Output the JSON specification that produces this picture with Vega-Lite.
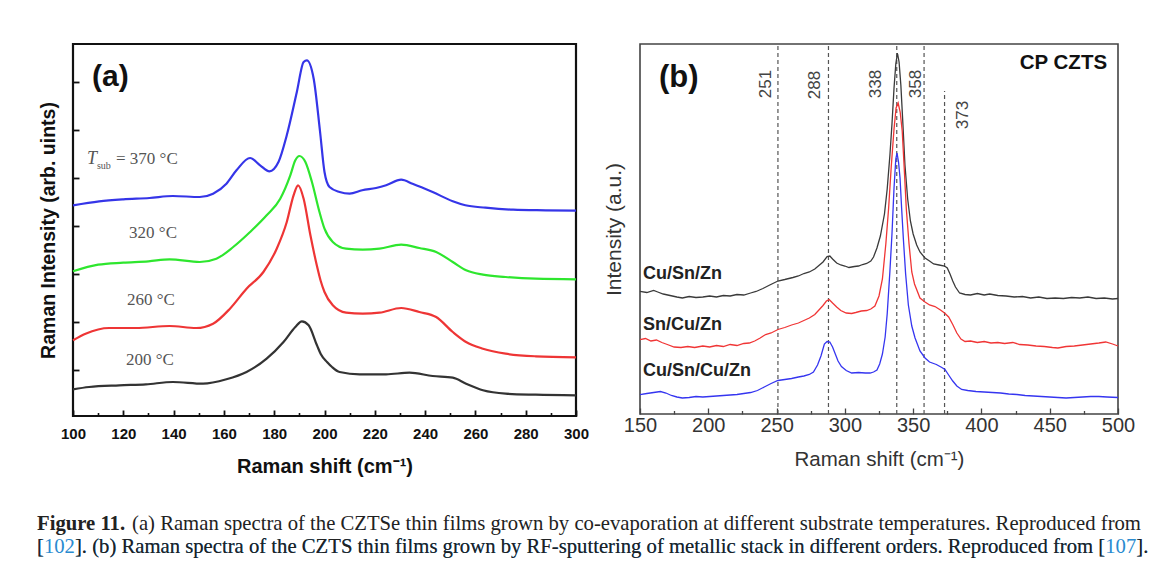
{
  "$schema": "https://vega.github.io/schema/vega-lite/v6.json",
  "background": "white",
  "padding": {"left": 37, "top": 42, "right": 5, "bottom": 0},
  "config": {"view": {"stroke": null}, "axis": {"grid": false}, "font": "Liberation Sans"},
  "spacing": 34,
  "vconcat": [
    {
      "spacing": 12,
      "resolve": {"scale": {"color": "independent"}},
      "hconcat": [
        {
          "width": 503,
          "height": 372,
          "view": {"stroke": "#111111", "strokeWidth": 2.2},
          "resolve": {"axis": {"x": "independent"}},
          "encoding": {
            "y": {"field": "intensity", "type": "quantitative",
              "scale": {"domain": [0, 372], "nice": false, "zero": false},
              "axis": {"values": [46, 94, 142, 190, 238, 286, 334], "tickSize": -6, "tickWidth": 1.8,
                "tickColor": "#111111", "labels": false, "domain": false,
                "title": "Raman Intensity (arb. uints)", "titleFont": "Liberation Sans", "titleFontWeight": "bold",
                "titleFontSize": 19.5, "titleColor": "#111111", "titlePadding": 14}}
          },
          "layer": [
            {
              "data": {"values": [
                {"series": "370 °C", "shift": 100, "intensity": 210.7},
                {"series": "370 °C", "shift": 110.4, "intensity": 214.7},
                {"series": "370 °C", "shift": 120, "intensity": 216.7},
                {"series": "370 °C", "shift": 130.4, "intensity": 218},
                {"series": "370 °C", "shift": 139.7, "intensity": 220},
                {"series": "370 °C", "shift": 150.4, "intensity": 219},
                {"series": "370 °C", "shift": 155.7, "intensity": 222.3},
                {"series": "370 °C", "shift": 161, "intensity": 232.3},
                {"series": "370 °C", "shift": 165, "intensity": 245.7},
                {"series": "370 °C", "shift": 170.4, "intensity": 258},
                {"series": "370 °C", "shift": 174.4, "intensity": 250.7},
                {"series": "370 °C", "shift": 178.1, "intensity": 244.7},
                {"series": "370 °C", "shift": 181.7, "intensity": 254},
                {"series": "370 °C", "shift": 185, "intensity": 280.7},
                {"series": "370 °C", "shift": 189, "intensity": 324},
                {"series": "370 °C", "shift": 191.7, "intensity": 354},
                {"series": "370 °C", "shift": 193, "intensity": 355.7},
                {"series": "370 °C", "shift": 195.7, "intensity": 337.3},
                {"series": "370 °C", "shift": 198.2, "intensity": 285},
                {"series": "370 °C", "shift": 200, "intensity": 244},
                {"series": "370 °C", "shift": 202, "intensity": 229},
                {"series": "370 °C", "shift": 206, "intensity": 224},
                {"series": "370 °C", "shift": 210, "intensity": 222.3},
                {"series": "370 °C", "shift": 215, "intensity": 225.7},
                {"series": "370 °C", "shift": 220.5, "intensity": 228},
                {"series": "370 °C", "shift": 224.5, "intensity": 230.7},
                {"series": "370 °C", "shift": 230.5, "intensity": 236.3},
                {"series": "370 °C", "shift": 235, "intensity": 232.3},
                {"series": "370 °C", "shift": 243, "intensity": 224},
                {"series": "370 °C", "shift": 251, "intensity": 214.7},
                {"series": "370 °C", "shift": 256, "intensity": 210.7},
                {"series": "370 °C", "shift": 264, "intensity": 208.3},
                {"series": "370 °C", "shift": 275, "intensity": 206.3},
                {"series": "370 °C", "shift": 288, "intensity": 205.7},
                {"series": "370 °C", "shift": 300, "intensity": 205.3},
                {"series": "320 °C", "shift": 100, "intensity": 144.7},
                {"series": "320 °C", "shift": 110, "intensity": 151.3},
                {"series": "320 °C", "shift": 120, "intensity": 153.3},
                {"series": "320 °C", "shift": 130, "intensity": 154.7},
                {"series": "320 °C", "shift": 138.4, "intensity": 156.7},
                {"series": "320 °C", "shift": 150.4, "intensity": 154},
                {"series": "320 °C", "shift": 157, "intensity": 157.3},
                {"series": "320 °C", "shift": 163.7, "intensity": 169},
                {"series": "320 °C", "shift": 170.4, "intensity": 184},
                {"series": "320 °C", "shift": 177, "intensity": 200.7},
                {"series": "320 °C", "shift": 182.4, "intensity": 217.3},
                {"series": "320 °C", "shift": 186.4, "intensity": 240.7},
                {"series": "320 °C", "shift": 188.4, "intensity": 255.7},
                {"series": "320 °C", "shift": 190, "intensity": 260},
                {"series": "320 °C", "shift": 192.4, "intensity": 254},
                {"series": "320 °C", "shift": 195, "intensity": 234},
                {"series": "320 °C", "shift": 198, "intensity": 204},
                {"series": "320 °C", "shift": 200, "intensity": 187.3},
                {"series": "320 °C", "shift": 203.3, "intensity": 174},
                {"series": "320 °C", "shift": 208.6, "intensity": 167.3},
                {"series": "320 °C", "shift": 215.2, "intensity": 166.3},
                {"series": "320 °C", "shift": 221.9, "intensity": 167.3},
                {"series": "320 °C", "shift": 230.5, "intensity": 171.3},
                {"series": "320 °C", "shift": 237.7, "intensity": 168},
                {"series": "320 °C", "shift": 244.4, "intensity": 164},
                {"series": "320 °C", "shift": 251, "intensity": 154},
                {"series": "320 °C", "shift": 256.3, "intensity": 145.7},
                {"series": "320 °C", "shift": 263, "intensity": 141.3},
                {"series": "320 °C", "shift": 272, "intensity": 139},
                {"series": "320 °C", "shift": 284, "intensity": 137.3},
                {"series": "320 °C", "shift": 300, "intensity": 136.7},
                {"series": "260 °C", "shift": 100, "intensity": 75.7},
                {"series": "260 °C", "shift": 105, "intensity": 82.3},
                {"series": "260 °C", "shift": 114.4, "intensity": 88},
                {"series": "260 °C", "shift": 125, "intensity": 88},
                {"series": "260 °C", "shift": 138.4, "intensity": 90},
                {"series": "260 °C", "shift": 149, "intensity": 88},
                {"series": "260 °C", "shift": 155.7, "intensity": 92.3},
                {"series": "260 °C", "shift": 162.4, "intensity": 107.3},
                {"series": "260 °C", "shift": 169, "intensity": 127.3},
                {"series": "260 °C", "shift": 175.7, "intensity": 144},
                {"series": "260 °C", "shift": 181, "intensity": 167.3},
                {"series": "260 °C", "shift": 185, "intensity": 194},
                {"series": "260 °C", "shift": 187.7, "intensity": 220.7},
                {"series": "260 °C", "shift": 189.5, "intensity": 230.7},
                {"series": "260 °C", "shift": 191.7, "intensity": 217.3},
                {"series": "260 °C", "shift": 194.4, "intensity": 180.7},
                {"series": "260 °C", "shift": 197, "intensity": 150},
                {"series": "260 °C", "shift": 198.5, "intensity": 135},
                {"series": "260 °C", "shift": 200, "intensity": 124},
                {"series": "260 °C", "shift": 203.3, "intensity": 110.7},
                {"series": "260 °C", "shift": 208.6, "intensity": 103.3},
                {"series": "260 °C", "shift": 215.2, "intensity": 102.3},
                {"series": "260 °C", "shift": 221.9, "intensity": 103.3},
                {"series": "260 °C", "shift": 230.5, "intensity": 108},
                {"series": "260 °C", "shift": 237.7, "intensity": 104},
                {"series": "260 °C", "shift": 244.4, "intensity": 99},
                {"series": "260 °C", "shift": 251, "intensity": 84},
                {"series": "260 °C", "shift": 256.3, "intensity": 74},
                {"series": "260 °C", "shift": 263, "intensity": 67.3},
                {"series": "260 °C", "shift": 272, "intensity": 62.3},
                {"series": "260 °C", "shift": 284, "intensity": 59.7},
                {"series": "260 °C", "shift": 300, "intensity": 58.7},
                {"series": "200 °C", "shift": 100, "intensity": 26.7},
                {"series": "200 °C", "shift": 106.4, "intensity": 29},
                {"series": "200 °C", "shift": 118.4, "intensity": 30.7},
                {"series": "200 °C", "shift": 129, "intensity": 31.7},
                {"series": "200 °C", "shift": 139.7, "intensity": 34},
                {"series": "200 °C", "shift": 151.7, "intensity": 32.3},
                {"series": "200 °C", "shift": 161, "intensity": 36.7},
                {"series": "200 °C", "shift": 169, "intensity": 44},
                {"series": "200 °C", "shift": 177, "intensity": 57.3},
                {"series": "200 °C", "shift": 183.7, "intensity": 74},
                {"series": "200 °C", "shift": 188.4, "intensity": 89},
                {"series": "200 °C", "shift": 191, "intensity": 94.7},
                {"series": "200 °C", "shift": 193.7, "intensity": 90.7},
                {"series": "200 °C", "shift": 197, "intensity": 70.7},
                {"series": "200 °C", "shift": 198.5, "intensity": 62},
                {"series": "200 °C", "shift": 201, "intensity": 54},
                {"series": "200 °C", "shift": 203, "intensity": 49},
                {"series": "200 °C", "shift": 206, "intensity": 44},
                {"series": "200 °C", "shift": 214, "intensity": 41.7},
                {"series": "200 °C", "shift": 224.5, "intensity": 41.7},
                {"series": "200 °C", "shift": 233.8, "intensity": 43.3},
                {"series": "200 °C", "shift": 243, "intensity": 40},
                {"series": "200 °C", "shift": 251, "intensity": 38.3},
                {"series": "200 °C", "shift": 256.3, "intensity": 32.3},
                {"series": "200 °C", "shift": 263, "intensity": 25.7},
                {"series": "200 °C", "shift": 272, "intensity": 22.3},
                {"series": "200 °C", "shift": 284, "intensity": 21.3},
                {"series": "200 °C", "shift": 300, "intensity": 20.7}
              ]},
              "mark": {"type": "line", "interpolate": "monotone", "strokeWidth": 2.2},
              "encoding": {
                "x": {"field": "shift", "type": "quantitative",
                  "scale": {"domain": [100, 300], "nice": false, "zero": false},
                  "axis": {"orient": "bottom", "values": [100, 120, 140, 160, 180, 200, 220, 240, 260, 280, 300],
                    "tickSize": -6, "tickWidth": 1.8, "tickColor": "#111111", "domain": false,
                    "labelFont": "Liberation Sans", "labelFontWeight": "bold", "labelFontSize": 15, "labelColor": "#111111",
                    "labelPadding": 16, "labelFlush": false, "labelOverlap": false,
                    "title": "Raman shift (cm⁻¹)", "titleFont": "Liberation Sans", "titleFontWeight": "bold",
                    "titleFontSize": 20, "titleColor": "#111111", "titlePadding": 15}},
                "color": {"field": "series", "type": "nominal",
                  "scale": {"domain": ["200 °C", "260 °C", "320 °C", "370 °C"],
                    "range": ["#333333", "#ee3535", "#2ee62e", "#3535e8"]},
                  "legend": null}
              }
            },
            {
              "data": {"values": [{"label": "(a)", "shift": 107.6, "intensity": 339}]},
              "mark": {"type": "text", "font": "Liberation Sans", "fontWeight": "bold", "fontSize": 30,
                "align": "left", "baseline": "middle", "color": "#111111"},
              "encoding": {
                "x": {"field": "shift", "type": "quantitative",
                  "axis": {"orient": "bottom", "values": [110, 130, 150, 170, 190, 210, 230, 250, 270, 290],
                    "tickSize": -3.5, "tickWidth": 1.6, "tickColor": "#111111", "labels": false,
                    "domain": false, "title": null}},
                "text": {"field": "label"}
              }
            },
            {
              "data": {"values": [
                {"label": "= 370 °C", "shift": 117.1, "intensity": 257},
                {"label": "320 °C", "shift": 122.3, "intensity": 183},
                {"label": "260 °C", "shift": 121.5, "intensity": 116},
                {"label": "200 °C", "shift": 121.1, "intensity": 56}
              ]},
              "mark": {"type": "text", "font": "Liberation Serif", "fontSize": 17,
                "align": "left", "baseline": "middle", "color": "#555555"},
              "encoding": {
                "x": {"field": "shift", "type": "quantitative", "axis": null},
                "text": {"field": "label"}
              }
            },
            {
              "data": {"values": [{"label": "T", "shift": 105.6, "intensity": 257}]},
              "mark": {"type": "text", "font": "Liberation Serif", "fontSize": 18, "fontStyle": "italic",
                "align": "left", "baseline": "middle", "color": "#555555"},
              "encoding": {
                "x": {"field": "shift", "type": "quantitative", "axis": null},
                "text": {"field": "label"}
              }
            },
            {
              "data": {"values": [{"label": "sub", "shift": 109.5, "intensity": 250}]},
              "mark": {"type": "text", "font": "Liberation Serif", "fontSize": 10,
                "align": "left", "baseline": "middle", "color": "#555555"},
              "encoding": {
                "x": {"field": "shift", "type": "quantitative", "axis": null},
                "text": {"field": "label"}
              }
            }
          ]
        },
        {
          "width": 478,
          "height": 370,
          "view": {"stroke": "#444444", "strokeWidth": 1.6},
          "resolve": {"axis": {"x": "independent"}},
          "encoding": {
            "y": {"field": "intensity", "type": "quantitative",
              "scale": {"domain": [0, 370], "nice": false, "zero": false},
              "axis": {"ticks": false, "labels": false, "domain": false,
                "title": "Intensity (a.u.)", "titleFont": "Liberation Sans", "titleFontWeight": "normal",
                "titleFontSize": 21, "titleColor": "#333333", "titlePadding": 16}}
          },
          "layer": [
            {
              "data": {"values": [
                {"peak": 251, "intensity": 0, "top": 370},
                {"peak": 288, "intensity": 0, "top": 370},
                {"peak": 338, "intensity": 0, "top": 370},
                {"peak": 358, "intensity": 0, "top": 370},
                {"peak": 373, "intensity": 0, "top": 323}
              ]},
              "mark": {"type": "rule", "strokeDash": [4, 3], "strokeWidth": 1.2, "color": "#555555"},
              "encoding": {
                "x": {"field": "peak", "type": "quantitative",
                  "scale": {"domain": [150, 500], "nice": false, "zero": false},
                  "axis": {"orient": "bottom", "values": [175, 225, 275, 325, 375, 425, 475],
                    "tickSize": -3.5, "tickWidth": 1.3, "tickColor": "#444444", "labels": false,
                    "domain": false, "title": null}},
                "y2": {"field": "top"}
              }
            },
            {
              "data": {"values": [
                {"stack": "Cu/Sn/Zn", "shift": 150, "intensity": 122.7},
                {"stack": "Cu/Sn/Zn", "shift": 155, "intensity": 121.5},
                {"stack": "Cu/Sn/Zn", "shift": 160, "intensity": 123.5},
                {"stack": "Cu/Sn/Zn", "shift": 163, "intensity": 122},
                {"stack": "Cu/Sn/Zn", "shift": 167, "intensity": 120},
                {"stack": "Cu/Sn/Zn", "shift": 172, "intensity": 118.5},
                {"stack": "Cu/Sn/Zn", "shift": 177, "intensity": 117},
                {"stack": "Cu/Sn/Zn", "shift": 181, "intensity": 116},
                {"stack": "Cu/Sn/Zn", "shift": 186, "intensity": 117.5},
                {"stack": "Cu/Sn/Zn", "shift": 191, "intensity": 116.5},
                {"stack": "Cu/Sn/Zn", "shift": 196, "intensity": 117},
                {"stack": "Cu/Sn/Zn", "shift": 201, "intensity": 118},
                {"stack": "Cu/Sn/Zn", "shift": 206, "intensity": 117},
                {"stack": "Cu/Sn/Zn", "shift": 211, "intensity": 118.5},
                {"stack": "Cu/Sn/Zn", "shift": 216, "intensity": 118},
                {"stack": "Cu/Sn/Zn", "shift": 221, "intensity": 119.5},
                {"stack": "Cu/Sn/Zn", "shift": 226, "intensity": 119},
                {"stack": "Cu/Sn/Zn", "shift": 231, "intensity": 121},
                {"stack": "Cu/Sn/Zn", "shift": 235, "intensity": 122.5},
                {"stack": "Cu/Sn/Zn", "shift": 240, "intensity": 125.5},
                {"stack": "Cu/Sn/Zn", "shift": 245, "intensity": 129},
                {"stack": "Cu/Sn/Zn", "shift": 251, "intensity": 133},
                {"stack": "Cu/Sn/Zn", "shift": 256, "intensity": 134.5},
                {"stack": "Cu/Sn/Zn", "shift": 262, "intensity": 136.5},
                {"stack": "Cu/Sn/Zn", "shift": 266, "intensity": 138},
                {"stack": "Cu/Sn/Zn", "shift": 270, "intensity": 140.5},
                {"stack": "Cu/Sn/Zn", "shift": 274, "intensity": 142},
                {"stack": "Cu/Sn/Zn", "shift": 278, "intensity": 145},
                {"stack": "Cu/Sn/Zn", "shift": 281, "intensity": 148.5},
                {"stack": "Cu/Sn/Zn", "shift": 284, "intensity": 152},
                {"stack": "Cu/Sn/Zn", "shift": 287, "intensity": 157.5},
                {"stack": "Cu/Sn/Zn", "shift": 289, "intensity": 158},
                {"stack": "Cu/Sn/Zn", "shift": 291, "intensity": 155},
                {"stack": "Cu/Sn/Zn", "shift": 294, "intensity": 151},
                {"stack": "Cu/Sn/Zn", "shift": 297, "intensity": 149},
                {"stack": "Cu/Sn/Zn", "shift": 300, "intensity": 148},
                {"stack": "Cu/Sn/Zn", "shift": 303, "intensity": 146.5},
                {"stack": "Cu/Sn/Zn", "shift": 307, "intensity": 147.5},
                {"stack": "Cu/Sn/Zn", "shift": 310, "intensity": 148},
                {"stack": "Cu/Sn/Zn", "shift": 313, "intensity": 149.5},
                {"stack": "Cu/Sn/Zn", "shift": 316, "intensity": 150.5},
                {"stack": "Cu/Sn/Zn", "shift": 319, "intensity": 153},
                {"stack": "Cu/Sn/Zn", "shift": 321, "intensity": 157},
                {"stack": "Cu/Sn/Zn", "shift": 323.5, "intensity": 166},
                {"stack": "Cu/Sn/Zn", "shift": 326, "intensity": 178},
                {"stack": "Cu/Sn/Zn", "shift": 329, "intensity": 200},
                {"stack": "Cu/Sn/Zn", "shift": 331, "intensity": 225},
                {"stack": "Cu/Sn/Zn", "shift": 333, "intensity": 259},
                {"stack": "Cu/Sn/Zn", "shift": 334.5, "intensity": 290},
                {"stack": "Cu/Sn/Zn", "shift": 336, "intensity": 326},
                {"stack": "Cu/Sn/Zn", "shift": 337.3, "intensity": 350},
                {"stack": "Cu/Sn/Zn", "shift": 338.5, "intensity": 361},
                {"stack": "Cu/Sn/Zn", "shift": 339.7, "intensity": 352},
                {"stack": "Cu/Sn/Zn", "shift": 341, "intensity": 329},
                {"stack": "Cu/Sn/Zn", "shift": 342.5, "intensity": 290},
                {"stack": "Cu/Sn/Zn", "shift": 344, "intensity": 249},
                {"stack": "Cu/Sn/Zn", "shift": 346, "intensity": 215},
                {"stack": "Cu/Sn/Zn", "shift": 348, "intensity": 193},
                {"stack": "Cu/Sn/Zn", "shift": 350, "intensity": 180},
                {"stack": "Cu/Sn/Zn", "shift": 352.6, "intensity": 169},
                {"stack": "Cu/Sn/Zn", "shift": 355, "intensity": 162},
                {"stack": "Cu/Sn/Zn", "shift": 358.7, "intensity": 156},
                {"stack": "Cu/Sn/Zn", "shift": 362, "intensity": 153},
                {"stack": "Cu/Sn/Zn", "shift": 365, "intensity": 150},
                {"stack": "Cu/Sn/Zn", "shift": 369, "intensity": 149},
                {"stack": "Cu/Sn/Zn", "shift": 373, "intensity": 148},
                {"stack": "Cu/Sn/Zn", "shift": 375, "intensity": 146},
                {"stack": "Cu/Sn/Zn", "shift": 377, "intensity": 140},
                {"stack": "Cu/Sn/Zn", "shift": 379, "intensity": 133},
                {"stack": "Cu/Sn/Zn", "shift": 381, "intensity": 127},
                {"stack": "Cu/Sn/Zn", "shift": 384, "intensity": 121},
                {"stack": "Cu/Sn/Zn", "shift": 388, "intensity": 119.5},
                {"stack": "Cu/Sn/Zn", "shift": 392, "intensity": 119},
                {"stack": "Cu/Sn/Zn", "shift": 397, "intensity": 120.5},
                {"stack": "Cu/Sn/Zn", "shift": 402, "intensity": 119},
                {"stack": "Cu/Sn/Zn", "shift": 406, "intensity": 120},
                {"stack": "Cu/Sn/Zn", "shift": 412, "intensity": 118.5},
                {"stack": "Cu/Sn/Zn", "shift": 418, "intensity": 118},
                {"stack": "Cu/Sn/Zn", "shift": 424, "intensity": 117},
                {"stack": "Cu/Sn/Zn", "shift": 430, "intensity": 117.5},
                {"stack": "Cu/Sn/Zn", "shift": 436, "intensity": 116},
                {"stack": "Cu/Sn/Zn", "shift": 442, "intensity": 117},
                {"stack": "Cu/Sn/Zn", "shift": 448, "intensity": 115.5},
                {"stack": "Cu/Sn/Zn", "shift": 454, "intensity": 116},
                {"stack": "Cu/Sn/Zn", "shift": 460, "intensity": 115.5},
                {"stack": "Cu/Sn/Zn", "shift": 466, "intensity": 116.5},
                {"stack": "Cu/Sn/Zn", "shift": 472, "intensity": 116},
                {"stack": "Cu/Sn/Zn", "shift": 478, "intensity": 117},
                {"stack": "Cu/Sn/Zn", "shift": 484, "intensity": 115.5},
                {"stack": "Cu/Sn/Zn", "shift": 490, "intensity": 116},
                {"stack": "Cu/Sn/Zn", "shift": 496, "intensity": 115},
                {"stack": "Cu/Sn/Zn", "shift": 500, "intensity": 115.5},
                {"stack": "Sn/Cu/Zn", "shift": 150, "intensity": 74.3},
                {"stack": "Sn/Cu/Zn", "shift": 154, "intensity": 75.5},
                {"stack": "Sn/Cu/Zn", "shift": 158, "intensity": 73},
                {"stack": "Sn/Cu/Zn", "shift": 162, "intensity": 74},
                {"stack": "Sn/Cu/Zn", "shift": 166, "intensity": 71.5},
                {"stack": "Sn/Cu/Zn", "shift": 170, "intensity": 69.5},
                {"stack": "Sn/Cu/Zn", "shift": 175, "intensity": 67},
                {"stack": "Sn/Cu/Zn", "shift": 180, "intensity": 66.5},
                {"stack": "Sn/Cu/Zn", "shift": 185, "intensity": 67.5},
                {"stack": "Sn/Cu/Zn", "shift": 190, "intensity": 66.5},
                {"stack": "Sn/Cu/Zn", "shift": 196, "intensity": 68},
                {"stack": "Sn/Cu/Zn", "shift": 201, "intensity": 67},
                {"stack": "Sn/Cu/Zn", "shift": 206, "intensity": 68.5},
                {"stack": "Sn/Cu/Zn", "shift": 211, "intensity": 67.5},
                {"stack": "Sn/Cu/Zn", "shift": 216, "intensity": 69.5},
                {"stack": "Sn/Cu/Zn", "shift": 221, "intensity": 68.5},
                {"stack": "Sn/Cu/Zn", "shift": 226, "intensity": 70.5},
                {"stack": "Sn/Cu/Zn", "shift": 230, "intensity": 71},
                {"stack": "Sn/Cu/Zn", "shift": 234, "intensity": 73},
                {"stack": "Sn/Cu/Zn", "shift": 238, "intensity": 76},
                {"stack": "Sn/Cu/Zn", "shift": 242, "intensity": 79.5},
                {"stack": "Sn/Cu/Zn", "shift": 246, "intensity": 81},
                {"stack": "Sn/Cu/Zn", "shift": 251, "intensity": 84.5},
                {"stack": "Sn/Cu/Zn", "shift": 256, "intensity": 86.5},
                {"stack": "Sn/Cu/Zn", "shift": 261, "intensity": 89},
                {"stack": "Sn/Cu/Zn", "shift": 266, "intensity": 91},
                {"stack": "Sn/Cu/Zn", "shift": 270, "intensity": 93.5},
                {"stack": "Sn/Cu/Zn", "shift": 274, "intensity": 96},
                {"stack": "Sn/Cu/Zn", "shift": 278, "intensity": 99.5},
                {"stack": "Sn/Cu/Zn", "shift": 281, "intensity": 104},
                {"stack": "Sn/Cu/Zn", "shift": 284, "intensity": 108.5},
                {"stack": "Sn/Cu/Zn", "shift": 286.5, "intensity": 113},
                {"stack": "Sn/Cu/Zn", "shift": 288.5, "intensity": 114.5},
                {"stack": "Sn/Cu/Zn", "shift": 291, "intensity": 111},
                {"stack": "Sn/Cu/Zn", "shift": 294, "intensity": 107},
                {"stack": "Sn/Cu/Zn", "shift": 297, "intensity": 103.5},
                {"stack": "Sn/Cu/Zn", "shift": 301, "intensity": 101},
                {"stack": "Sn/Cu/Zn", "shift": 305, "intensity": 100.5},
                {"stack": "Sn/Cu/Zn", "shift": 308, "intensity": 101.5},
                {"stack": "Sn/Cu/Zn", "shift": 312, "intensity": 103},
                {"stack": "Sn/Cu/Zn", "shift": 316, "intensity": 103.5},
                {"stack": "Sn/Cu/Zn", "shift": 319, "intensity": 105},
                {"stack": "Sn/Cu/Zn", "shift": 322, "intensity": 108},
                {"stack": "Sn/Cu/Zn", "shift": 325, "intensity": 118},
                {"stack": "Sn/Cu/Zn", "shift": 327.5, "intensity": 135},
                {"stack": "Sn/Cu/Zn", "shift": 330, "intensity": 170},
                {"stack": "Sn/Cu/Zn", "shift": 332, "intensity": 205},
                {"stack": "Sn/Cu/Zn", "shift": 334, "intensity": 248},
                {"stack": "Sn/Cu/Zn", "shift": 336, "intensity": 285},
                {"stack": "Sn/Cu/Zn", "shift": 337.5, "intensity": 306},
                {"stack": "Sn/Cu/Zn", "shift": 339, "intensity": 311},
                {"stack": "Sn/Cu/Zn", "shift": 340.5, "intensity": 302},
                {"stack": "Sn/Cu/Zn", "shift": 342, "intensity": 283},
                {"stack": "Sn/Cu/Zn", "shift": 343.5, "intensity": 245},
                {"stack": "Sn/Cu/Zn", "shift": 345, "intensity": 205},
                {"stack": "Sn/Cu/Zn", "shift": 347, "intensity": 170},
                {"stack": "Sn/Cu/Zn", "shift": 349, "intensity": 142},
                {"stack": "Sn/Cu/Zn", "shift": 351, "intensity": 130},
                {"stack": "Sn/Cu/Zn", "shift": 355, "intensity": 116},
                {"stack": "Sn/Cu/Zn", "shift": 358.7, "intensity": 112},
                {"stack": "Sn/Cu/Zn", "shift": 362, "intensity": 109},
                {"stack": "Sn/Cu/Zn", "shift": 366, "intensity": 107.5},
                {"stack": "Sn/Cu/Zn", "shift": 370, "intensity": 104},
                {"stack": "Sn/Cu/Zn", "shift": 373, "intensity": 101},
                {"stack": "Sn/Cu/Zn", "shift": 376, "intensity": 97},
                {"stack": "Sn/Cu/Zn", "shift": 379, "intensity": 89.5},
                {"stack": "Sn/Cu/Zn", "shift": 382, "intensity": 81},
                {"stack": "Sn/Cu/Zn", "shift": 385, "intensity": 75},
                {"stack": "Sn/Cu/Zn", "shift": 388, "intensity": 72.5},
                {"stack": "Sn/Cu/Zn", "shift": 392, "intensity": 73},
                {"stack": "Sn/Cu/Zn", "shift": 397, "intensity": 71.5},
                {"stack": "Sn/Cu/Zn", "shift": 402, "intensity": 72.5},
                {"stack": "Sn/Cu/Zn", "shift": 407, "intensity": 71},
                {"stack": "Sn/Cu/Zn", "shift": 412, "intensity": 71.5},
                {"stack": "Sn/Cu/Zn", "shift": 417, "intensity": 70.5},
                {"stack": "Sn/Cu/Zn", "shift": 423, "intensity": 71.5},
                {"stack": "Sn/Cu/Zn", "shift": 428, "intensity": 69.5},
                {"stack": "Sn/Cu/Zn", "shift": 434, "intensity": 69},
                {"stack": "Sn/Cu/Zn", "shift": 440, "intensity": 68},
                {"stack": "Sn/Cu/Zn", "shift": 446, "intensity": 67.5},
                {"stack": "Sn/Cu/Zn", "shift": 452, "intensity": 66.5},
                {"stack": "Sn/Cu/Zn", "shift": 456, "intensity": 66},
                {"stack": "Sn/Cu/Zn", "shift": 462, "intensity": 67.5},
                {"stack": "Sn/Cu/Zn", "shift": 468, "intensity": 68},
                {"stack": "Sn/Cu/Zn", "shift": 474, "intensity": 69},
                {"stack": "Sn/Cu/Zn", "shift": 480, "intensity": 70},
                {"stack": "Sn/Cu/Zn", "shift": 486, "intensity": 71},
                {"stack": "Sn/Cu/Zn", "shift": 491, "intensity": 72},
                {"stack": "Sn/Cu/Zn", "shift": 496, "intensity": 70},
                {"stack": "Sn/Cu/Zn", "shift": 500, "intensity": 68},
                {"stack": "Cu/Sn/Cu/Zn", "shift": 150, "intensity": 19.3},
                {"stack": "Cu/Sn/Cu/Zn", "shift": 155, "intensity": 20.5},
                {"stack": "Cu/Sn/Cu/Zn", "shift": 160, "intensity": 21.5},
                {"stack": "Cu/Sn/Cu/Zn", "shift": 165, "intensity": 22.5},
                {"stack": "Cu/Sn/Cu/Zn", "shift": 169, "intensity": 21},
                {"stack": "Cu/Sn/Cu/Zn", "shift": 173, "intensity": 18.5},
                {"stack": "Cu/Sn/Cu/Zn", "shift": 177, "intensity": 17},
                {"stack": "Cu/Sn/Cu/Zn", "shift": 181, "intensity": 16},
                {"stack": "Cu/Sn/Cu/Zn", "shift": 186, "intensity": 16.5},
                {"stack": "Cu/Sn/Cu/Zn", "shift": 191, "intensity": 17.5},
                {"stack": "Cu/Sn/Cu/Zn", "shift": 196, "intensity": 17},
                {"stack": "Cu/Sn/Cu/Zn", "shift": 201, "intensity": 17.5},
                {"stack": "Cu/Sn/Cu/Zn", "shift": 206, "intensity": 18},
                {"stack": "Cu/Sn/Cu/Zn", "shift": 211, "intensity": 18.5},
                {"stack": "Cu/Sn/Cu/Zn", "shift": 216, "intensity": 19},
                {"stack": "Cu/Sn/Cu/Zn", "shift": 221, "intensity": 19.5},
                {"stack": "Cu/Sn/Cu/Zn", "shift": 226, "intensity": 20.5},
                {"stack": "Cu/Sn/Cu/Zn", "shift": 231, "intensity": 21.5},
                {"stack": "Cu/Sn/Cu/Zn", "shift": 236, "intensity": 23.5},
                {"stack": "Cu/Sn/Cu/Zn", "shift": 241, "intensity": 27},
                {"stack": "Cu/Sn/Cu/Zn", "shift": 246, "intensity": 30.5},
                {"stack": "Cu/Sn/Cu/Zn", "shift": 251, "intensity": 33.5},
                {"stack": "Cu/Sn/Cu/Zn", "shift": 256, "intensity": 34.5},
                {"stack": "Cu/Sn/Cu/Zn", "shift": 261, "intensity": 35.5},
                {"stack": "Cu/Sn/Cu/Zn", "shift": 266, "intensity": 37},
                {"stack": "Cu/Sn/Cu/Zn", "shift": 270, "intensity": 38},
                {"stack": "Cu/Sn/Cu/Zn", "shift": 274, "intensity": 39.5},
                {"stack": "Cu/Sn/Cu/Zn", "shift": 277, "intensity": 42},
                {"stack": "Cu/Sn/Cu/Zn", "shift": 280, "intensity": 49},
                {"stack": "Cu/Sn/Cu/Zn", "shift": 282.5, "intensity": 58},
                {"stack": "Cu/Sn/Cu/Zn", "shift": 285, "intensity": 70},
                {"stack": "Cu/Sn/Cu/Zn", "shift": 287, "intensity": 72.5},
                {"stack": "Cu/Sn/Cu/Zn", "shift": 289, "intensity": 72},
                {"stack": "Cu/Sn/Cu/Zn", "shift": 291, "intensity": 67},
                {"stack": "Cu/Sn/Cu/Zn", "shift": 293, "intensity": 60},
                {"stack": "Cu/Sn/Cu/Zn", "shift": 295, "intensity": 53},
                {"stack": "Cu/Sn/Cu/Zn", "shift": 297.5, "intensity": 47.5},
                {"stack": "Cu/Sn/Cu/Zn", "shift": 301, "intensity": 43.5},
                {"stack": "Cu/Sn/Cu/Zn", "shift": 305, "intensity": 41},
                {"stack": "Cu/Sn/Cu/Zn", "shift": 310, "intensity": 41.5},
                {"stack": "Cu/Sn/Cu/Zn", "shift": 315, "intensity": 41},
                {"stack": "Cu/Sn/Cu/Zn", "shift": 318.5, "intensity": 41},
                {"stack": "Cu/Sn/Cu/Zn", "shift": 321, "intensity": 42},
                {"stack": "Cu/Sn/Cu/Zn", "shift": 323.5, "intensity": 44},
                {"stack": "Cu/Sn/Cu/Zn", "shift": 325.5, "intensity": 50},
                {"stack": "Cu/Sn/Cu/Zn", "shift": 327.5, "intensity": 60},
                {"stack": "Cu/Sn/Cu/Zn", "shift": 329.5, "intensity": 77},
                {"stack": "Cu/Sn/Cu/Zn", "shift": 331, "intensity": 100},
                {"stack": "Cu/Sn/Cu/Zn", "shift": 333, "intensity": 143},
                {"stack": "Cu/Sn/Cu/Zn", "shift": 334.5, "intensity": 180},
                {"stack": "Cu/Sn/Cu/Zn", "shift": 336, "intensity": 226},
                {"stack": "Cu/Sn/Cu/Zn", "shift": 337.3, "intensity": 255},
                {"stack": "Cu/Sn/Cu/Zn", "shift": 338.2, "intensity": 261},
                {"stack": "Cu/Sn/Cu/Zn", "shift": 339.3, "intensity": 252},
                {"stack": "Cu/Sn/Cu/Zn", "shift": 340.4, "intensity": 236},
                {"stack": "Cu/Sn/Cu/Zn", "shift": 341.6, "intensity": 205},
                {"stack": "Cu/Sn/Cu/Zn", "shift": 342.8, "intensity": 176},
                {"stack": "Cu/Sn/Cu/Zn", "shift": 344.5, "intensity": 140},
                {"stack": "Cu/Sn/Cu/Zn", "shift": 346.5, "intensity": 109},
                {"stack": "Cu/Sn/Cu/Zn", "shift": 349, "intensity": 88},
                {"stack": "Cu/Sn/Cu/Zn", "shift": 351.4, "intensity": 76},
                {"stack": "Cu/Sn/Cu/Zn", "shift": 355, "intensity": 63},
                {"stack": "Cu/Sn/Cu/Zn", "shift": 358.7, "intensity": 56},
                {"stack": "Cu/Sn/Cu/Zn", "shift": 362, "intensity": 52},
                {"stack": "Cu/Sn/Cu/Zn", "shift": 367, "intensity": 49.5},
                {"stack": "Cu/Sn/Cu/Zn", "shift": 371, "intensity": 46.5},
                {"stack": "Cu/Sn/Cu/Zn", "shift": 373.3, "intensity": 44.5},
                {"stack": "Cu/Sn/Cu/Zn", "shift": 376, "intensity": 39},
                {"stack": "Cu/Sn/Cu/Zn", "shift": 379, "intensity": 33},
                {"stack": "Cu/Sn/Cu/Zn", "shift": 382, "intensity": 28},
                {"stack": "Cu/Sn/Cu/Zn", "shift": 385.5, "intensity": 24.5},
                {"stack": "Cu/Sn/Cu/Zn", "shift": 390, "intensity": 23.5},
                {"stack": "Cu/Sn/Cu/Zn", "shift": 396, "intensity": 22.5},
                {"stack": "Cu/Sn/Cu/Zn", "shift": 402, "intensity": 22},
                {"stack": "Cu/Sn/Cu/Zn", "shift": 408, "intensity": 21.5},
                {"stack": "Cu/Sn/Cu/Zn", "shift": 414, "intensity": 21},
                {"stack": "Cu/Sn/Cu/Zn", "shift": 420, "intensity": 20},
                {"stack": "Cu/Sn/Cu/Zn", "shift": 426, "intensity": 19.5},
                {"stack": "Cu/Sn/Cu/Zn", "shift": 432, "intensity": 18.5},
                {"stack": "Cu/Sn/Cu/Zn", "shift": 438, "intensity": 18},
                {"stack": "Cu/Sn/Cu/Zn", "shift": 444, "intensity": 17.5},
                {"stack": "Cu/Sn/Cu/Zn", "shift": 450, "intensity": 17},
                {"stack": "Cu/Sn/Cu/Zn", "shift": 456, "intensity": 16.5},
                {"stack": "Cu/Sn/Cu/Zn", "shift": 462, "intensity": 16},
                {"stack": "Cu/Sn/Cu/Zn", "shift": 468, "intensity": 16.5},
                {"stack": "Cu/Sn/Cu/Zn", "shift": 474, "intensity": 17},
                {"stack": "Cu/Sn/Cu/Zn", "shift": 480, "intensity": 17.5},
                {"stack": "Cu/Sn/Cu/Zn", "shift": 486, "intensity": 17.5},
                {"stack": "Cu/Sn/Cu/Zn", "shift": 492, "intensity": 17},
                {"stack": "Cu/Sn/Cu/Zn", "shift": 500, "intensity": 16.5}
              ]},
              "mark": {"type": "line", "strokeWidth": 1.3},
              "encoding": {
                "x": {"field": "shift", "type": "quantitative",
                  "axis": {"orient": "bottom", "values": [150, 200, 250, 300, 350, 400, 450, 500],
                    "tickSize": -6, "tickWidth": 1.3, "tickColor": "#444444", "domain": false,
                    "labelFont": "Liberation Sans", "labelFontSize": 20, "labelColor": "#333333",
                    "labelPadding": 7, "labelFlush": false, "labelOverlap": false,
                    "title": "Raman shift (cm⁻¹)", "titleFont": "Liberation Sans", "titleFontWeight": "normal",
                    "titleFontSize": 20.5, "titleColor": "#333333", "titlePadding": 14}},
                "color": {"field": "stack", "type": "nominal",
                  "scale": {"domain": ["Cu/Sn/Zn", "Sn/Cu/Zn", "Cu/Sn/Cu/Zn"],
                    "range": ["#3a3a3a", "#f03535", "#3535f0"]},
                  "legend": null}
              }
            },
            {
              "data": {"values": [
                {"label": "251", "shift": 242.3, "intensity": 330},
                {"label": "288", "shift": 278.1, "intensity": 329},
                {"label": "338", "shift": 322.8, "intensity": 330},
                {"label": "358", "shift": 352.1, "intensity": 330},
                {"label": "373", "shift": 386.5, "intensity": 299}
              ]},
              "mark": {"type": "text", "angle": 270, "font": "Liberation Sans", "fontSize": 17,
                "align": "center", "baseline": "middle", "color": "#444444"},
              "encoding": {
                "x": {"field": "shift", "type": "quantitative", "axis": null},
                "text": {"field": "label"}
              }
            },
            {
              "data": {"values": [
                {"label": "Cu/Sn/Zn", "shift": 152.2, "intensity": 140},
                {"label": "Sn/Cu/Zn", "shift": 152.2, "intensity": 89},
                {"label": "Cu/Sn/Cu/Zn", "shift": 152.2, "intensity": 43}
              ]},
              "mark": {"type": "text", "font": "Liberation Sans", "fontSize": 18, "fontWeight": "bold",
                "align": "left", "baseline": "middle", "color": "#222222"},
              "encoding": {
                "x": {"field": "shift", "type": "quantitative", "axis": null},
                "text": {"field": "label"}
              }
            },
            {
              "data": {"values": [{"label": "(b)", "shift": 163.9, "intensity": 336}]},
              "mark": {"type": "text", "font": "Liberation Sans", "fontSize": 31, "fontWeight": "bold",
                "align": "left", "baseline": "middle", "color": "#111111"},
              "encoding": {
                "x": {"field": "shift", "type": "quantitative", "axis": null},
                "text": {"field": "label"}
              }
            },
            {
              "data": {"values": [{"label": "CP CZTS", "shift": 492, "intensity": 351}]},
              "mark": {"type": "text", "font": "Liberation Sans", "fontSize": 20.5, "fontWeight": "bold",
                "align": "right", "baseline": "middle", "color": "#111111"},
              "encoding": {
                "x": {"field": "shift", "type": "quantitative", "axis": null},
                "text": {"field": "label"}
              }
            }
          ]
        }
      ]
    },
    {
      "width": 1060,
      "height": 46,
      "view": {"stroke": null},
      "data": {"values": [
        {"line": 1, "part": "label", "text": "Figure 11."},
        {"line": 1, "part": "rest", "text": "(a) Raman spectra of the CZTSe thin films grown by co-evaporation at different substrate temperatures. Reproduced from"},
        {"line": 2, "part": "ref", "text": "[102]. (b) Raman spectra of the CZTS thin films grown by RF-sputtering of metallic stack in different orders. Reproduced from [107]."},
        {"line": 2, "part": "body", "text": "[\u2002\u2002\u2002]. (b) Raman spectra of the CZTS thin films grown by RF-sputtering of metallic stack in different orders. Reproduced from [\u2002\u2002\u2002]."}
      ]},
      "encoding": {
        "x": {"datum": 0, "type": "quantitative", "scale": {"domain": [0, 1]}, "axis": null},
        "y": {"field": "line", "type": "ordinal", "scale": {"type": "point", "padding": 0.5}, "axis": null},
        "text": {"field": "text"}
      },
      "layer": [
        {"transform": [{"filter": "datum.part === 'label'"}],
         "mark": {"type": "text", "font": "Liberation Serif", "fontSize": 20.7, "fontWeight": "bold",
           "align": "left", "baseline": "middle", "color": "#222222", "dx": -36}},
        {"transform": [{"filter": "datum.part === 'rest'"}],
         "mark": {"type": "text", "font": "Liberation Serif", "fontSize": 20.7,
           "align": "left", "baseline": "middle", "color": "#222222", "dx": 59}},
        {"transform": [{"filter": "datum.part === 'ref'"}],
         "mark": {"type": "text", "font": "Liberation Serif", "fontSize": 20.7,
           "align": "left", "baseline": "middle", "color": "#2a8bd0", "dx": -36}},
        {"transform": [{"filter": "datum.part === 'body'"}],
         "mark": {"type": "text", "font": "Liberation Serif", "fontSize": 20.7,
           "align": "left", "baseline": "middle", "color": "#222222", "dx": -36}}
      ]
    }
  ]
}
